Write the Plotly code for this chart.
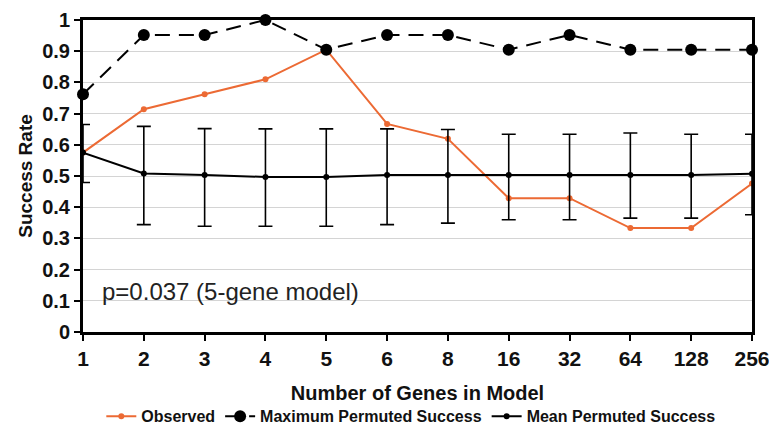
import plotly.graph_objects as go

genes = ["1", "2", "3", "4", "5", "6", "8", "16", "32", "64", "128", "256"]
observed = [0.575, 0.714, 0.762, 0.810, 0.905, 0.667, 0.619, 0.429, 0.429, 0.333, 0.333, 0.476]
max_perm = [0.762, 0.952, 0.952, 1.0, 0.905, 0.952, 0.952, 0.905, 0.952, 0.905, 0.905, 0.905]
mean_perm = [0.575, 0.508, 0.503, 0.497, 0.497, 0.503, 0.503, 0.503, 0.503, 0.503, 0.503, 0.507]
err_upper = [0.665, 0.659, 0.652, 0.651, 0.651, 0.651, 0.649, 0.634, 0.634, 0.638, 0.634, 0.634]
err_lower = [0.479, 0.344, 0.339, 0.339, 0.339, 0.344, 0.349, 0.360, 0.360, 0.365, 0.365, 0.376]
y_ticks = [0, 0.1, 0.2, 0.3, 0.4, 0.5, 0.6, 0.7, 0.8, 0.9, 1]
y_tick_labels = ["0", "0.1", "0.2", "0.3", "0.4", "0.5", "0.6", "0.7", "0.8", "0.9", "1"]

plus = [u - m for u, m in zip(err_upper, mean_perm)]
minus = [m - l for m, l in zip(mean_perm, err_lower)]

FONT = "Arial, Liberation Sans, sans-serif"
ORANGE = "#EC6A34"

fig = go.Figure()
fig.add_trace(go.Scatter(
    x=genes, y=observed, name="Observed", mode="lines+markers", cliponaxis=False,
    line=dict(color=ORANGE, width=2), marker=dict(color=ORANGE, size=6),
))
fig.add_trace(go.Scatter(
    x=genes, y=max_perm, name="Maximum Permuted Success", mode="lines+markers", cliponaxis=False,
    line=dict(color="black", width=2, dash="15px,9px"), marker=dict(color="black", size=12),
))
fig.add_trace(go.Scatter(
    x=genes, y=mean_perm, name="Mean Permuted Success", mode="lines+markers", cliponaxis=False,
    line=dict(color="black", width=2), marker=dict(color="black", size=6),
    error_y=dict(type="data", symmetric=False, array=plus, arrayminus=minus,
                 color="black", thickness=1.6, width=7),
))

fig.add_annotation(
    x=0.026, xref="paper", y=0.13, yref="y", xanchor="left", yanchor="middle",
    text="p=0.037 (5-gene model)", showarrow=False,
    font=dict(family=FONT, size=24, color="#222"),
)

fig.update_layout(
    width=769, height=423,
    margin=dict(l=75, r=25, t=12, b=99, autoexpand=False),
    paper_bgcolor="white", plot_bgcolor="white",
    font=dict(family=FONT, color="#111"),
    showlegend=True,
    legend=dict(orientation="h", x=0.49, xanchor="center", y=-0.27, yanchor="middle",
                font=dict(family=FONT, size=16, weight="bold", color="#111"),
                traceorder="normal", bgcolor="rgba(0,0,0,0)"),
    xaxis=dict(
        type="category", range=[0, 11], automargin=False,
        showline=True, linecolor="black", linewidth=3, mirror=True,
        ticks="outside", ticklen=6, tickwidth=2, tickcolor="black",
        tickfont=dict(family=FONT, size=21, weight="bold"),
        showgrid=False, ticklabeloverflow="allow",
        title=dict(text="Number of Genes in Model", font=dict(family=FONT, size=20, weight="bold"), standoff=17),
    ),
    yaxis=dict(
        range=[0, 1], tickmode="array", tickvals=y_ticks, ticktext=y_tick_labels,
        automargin=False, ticklabeloverflow="allow",
        showline=True, linecolor="black", linewidth=3, mirror=True,
        ticks="outside", ticklen=6, tickwidth=2, tickcolor="black",
        tickfont=dict(family=FONT, size=20, weight="bold"),
        showgrid=True, gridcolor="#d4d4d4", gridwidth=1.2,
        zeroline=False,
        title=dict(text="Success Rate", font=dict(family=FONT, size=19, weight="bold"), standoff=5),
    ),
)

fig.write_html("out.html")
